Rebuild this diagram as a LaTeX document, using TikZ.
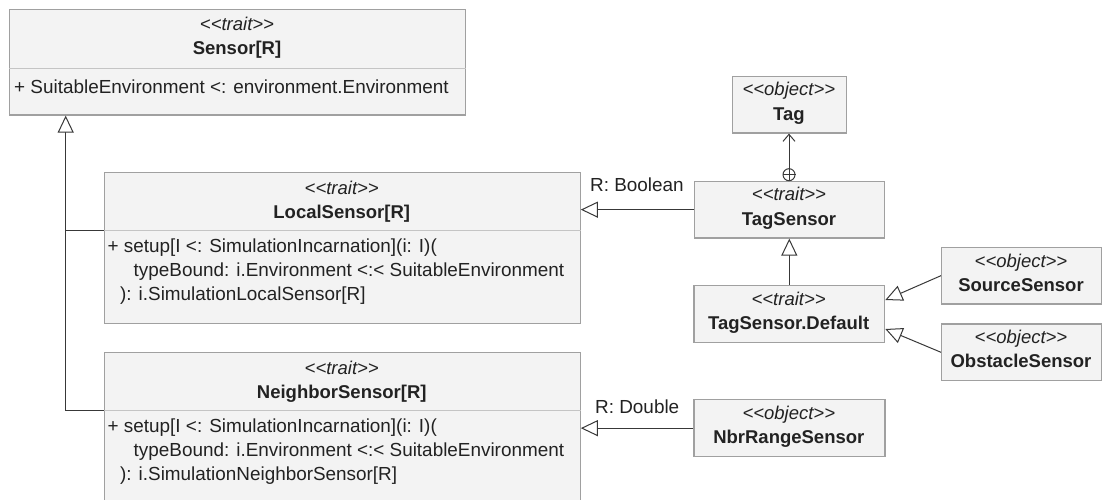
\documentclass[tikz,border=0pt]{standalone}
\usepackage{fontspec}
\setmainfont{Liberation Sans}
\usetikzlibrary{arrows.meta}
\definecolor{boxfill}{HTML}{F3F3F3}
\definecolor{boxline}{HTML}{A0A0A0}
\definecolor{divline}{HTML}{C4C4C4}
\definecolor{ink}{HTML}{222222}
\definecolor{wire}{HTML}{383838}
% stereotype label, kerns keep << and >> from being ligatured
\newcommand\stype[1]{\textit{<\kern0pt<#1>\kern0pt>}}

\begin{document}
\begin{tikzpicture}[x=1pt,y=-1pt,
  every node/.style={font=\fontsize{18.5}{24}\selectfont, text=ink},
  umlbox/.style={draw=boxline, fill=boxfill, line width=1.3pt, inner sep=0pt, anchor=north west},
  txt/.style={anchor=base, inner sep=0pt},
  ltxt/.style={anchor=base west, inner sep=0pt, font=\fontsize{18.9}{24}\selectfont},
  divider/.style={draw=divline, line width=1.2pt},
  conn/.style={draw=wire, line width=1pt},
  inh/.style={conn, -{Triangle[open, length=17pt, width=16pt, fill=white]}},
  nestarrow/.style={conn, -{Straight Barb[length=7pt, width=12pt]}},
]
\useasboundingbox (0,0) rectangle (1102,500);
\clip (0,0) rectangle (1102,500);

% ---- class boxes
\node[umlbox, minimum width=456pt, minimum height=105.3pt] (sensor) at (9,9) {};
\node[umlbox, minimum width=475.5pt, minimum height=151.3pt] (local) at (104,171.7) {};
\node[umlbox, minimum width=475.5pt, minimum height=151.3pt] (neighbor) at (104,351.7) {};
\node[umlbox, minimum width=114.3pt, minimum height=56.6pt] (tag) at (731.7,75.7) {};
\node[umlbox, minimum width=190pt, minimum height=56.6pt] (tagsensor) at (694,180.7) {};
\node[umlbox, minimum width=190.7pt, minimum height=56.7pt] (default) at (693.3,285) {};
\node[umlbox, minimum width=160pt, minimum height=56.6pt] (source) at (941,246.7) {};
\node[umlbox, minimum width=160pt, minimum height=56.7pt] (obstacle) at (941,323.3) {};
\node[umlbox, minimum width=191pt, minimum height=57pt] (nbrrange) at (693.3,399) {};

% ---- compartment dividers
\coordinate (sdiv) at (0,68.3);
\coordinate (ldiv) at (0,230.6);
\coordinate (ndiv) at (0,410.6);
\draw[divider] (sensor.west |- sdiv) -- (sensor.east |- sdiv);
\draw[divider] (local.west |- ldiv) -- (local.east |- ldiv);
\draw[divider] (neighbor.west |- ndiv) -- (neighbor.east |- ndiv);

% ---- Sensor[R]
\node[txt] (sensorst) at (237,31) {\stype{trait}};
\node[txt] (sensornm) at (237,55) {\textbf{Sensor[R]}};
\node[ltxt] (sensorat) at (14,94) {+ SuitableEnvironment <: environment.Environment};

% ---- LocalSensor[R]
\node[txt] (localst) at (341.75,194.3) {\stype{trait}};
\node[txt] (localnm) at (341.75,218.3) {\textbf{LocalSensor[R]}};
\node[ltxt] (localop1) at (107.5,252) {+ setup[I <: SimulationIncarnation](i: I)(};
\node[ltxt] (localop2) at (133.5,276) {typeBound: i.Environment <:< SuitableEnvironment};
\node[ltxt] (localop3) at (120,300) {): i.SimulationLocalSensor[R]};

% ---- NeighborSensor[R]
\node[txt] (nbrst) at (341.75,374.3) {\stype{trait}};
\node[txt] (nbrnm) at (341.75,398.3) {\textbf{NeighborSensor[R]}};
\node[ltxt] (nbrop1) at (107.5,432) {+ setup[I <: SimulationIncarnation](i: I)(};
\node[ltxt] (nbrop2) at (133.5,456) {typeBound: i.Environment <:< SuitableEnvironment};
\node[ltxt] (nbrop3) at (120,480) {): i.SimulationNeighborSensor[R]};

% ---- small classes
\node[txt] (tagst) at (788.85,96) {\stype{object}};
\node[txt] (tagnm) at (788.85,120.2) {\textbf{Tag}};
\node[txt] (tsst) at (789,200.7) {\stype{trait}};
\node[txt] (tsnm) at (789,225.2) {\textbf{TagSensor}};
\node[txt] (defst) at (788.65,305) {\stype{trait}};
\node[txt] (defnm) at (788.65,329.5) {\textbf{TagSensor.Default}};
\node[txt] (srcst) at (1021,267) {\stype{object}};
\node[txt] (srcnm) at (1021,291) {\textbf{SourceSensor}};
\node[txt] (obsst) at (1021,343.5) {\stype{object}};
\node[txt] (obsnm) at (1021,367.7) {\textbf{ObstacleSensor}};
\node[txt] (nrst) at (788.8,419) {\stype{object}};
\node[txt] (nrnm) at (788.8,443.3) {\textbf{NbrRangeSensor}};

% ---- generalisations to Sensor[R]
\coordinate (spine) at (65.7,0);
\draw[conn] (local.west |- ldiv) -- (spine |- ldiv);
\draw[inh] (neighbor.west |- ndiv) -- (spine |- ndiv) -- (spine |- sensor.south);

% ---- generalisations on the right
\draw[inh] (tagsensor.west) -- (local.east |- tagsensor.west);
\node[ltxt] (boollbl) at (590,191.5) {R: Boolean};
\draw[inh] (nbrrange.west) -- (neighbor.east |- nbrrange.west);
\node[ltxt] (dbllbl) at (595,413.3) {R: Double};
\draw[inh] (default.north) -- (default.north |- tagsensor.south);
\coordinate (srctip) at ([yshift=14pt]default.east);
\coordinate (obstip) at ([yshift=-15pt]default.east);
\draw[inh] (source.west) -- (srctip);
\draw[inh] (obstacle.west) -- (obstip);

% ---- nesting: Tag is nested in TagSensor
\node[circle, draw=wire, line width=1pt, fill=white, minimum size=12pt, inner sep=0pt] (nest) at (789,174.7) {};
\draw[conn] (nest.north) -- (nest.south) (nest.west) -- (nest.east);
\draw[nestarrow] (nest.north) -- (nest.north |- tag.south);
\end{tikzpicture}
\end{document}
